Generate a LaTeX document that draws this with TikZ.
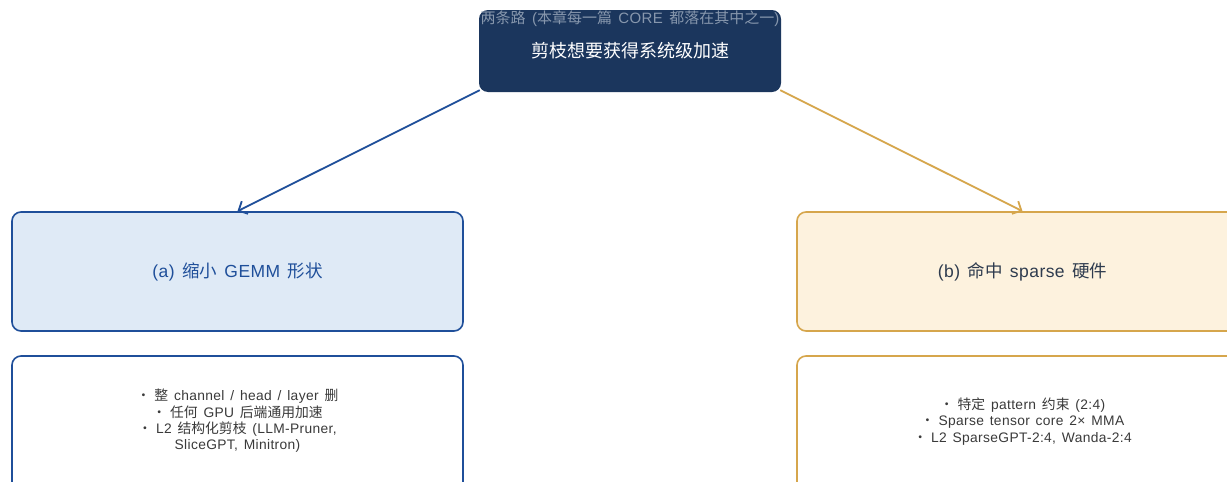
\documentclass[tikz,border=0pt]{standalone}
\usepackage{fontspec}
\setmainfont{Liberation Sans}[LetterSpace=2.5, WordSpace=1.4]
\newfontfamily\cjk{Noto Sans CJK SC}
\newcommand{\zh}[1]{{\cjk #1}}
\newcommand{\bul}{\zh{・}\hspace{4pt}}
\usetikzlibrary{arrows.meta}
\definecolor{navy}{HTML}{1B365D}
\definecolor{blueline}{HTML}{1F4F9A}
\definecolor{bluefill}{HTML}{DFEAF6}
\definecolor{goldline}{HTML}{D6A64C}
\definecolor{goldfill}{HTML}{FDF2DE}
\definecolor{darktext}{HTML}{2E3B4E}
\definecolor{bodytext}{HTML}{3A3A3A}
\definecolor{greytext}{HTML}{8797AD}
\tikzset{
  box/.style={rectangle, rounded corners=9pt, line width=1.6pt, minimum width=451pt, inner sep=0pt},
  link/.style={line width=1.8pt, -{Straight Barb[length=7pt,width=14pt]}},
  headfont/.style={font=\fontsize{17.5}{20}\selectfont},
  bodyfont/.style={font=\fontsize{13.8}{16.3}\selectfont},
}
\begin{document}
\begin{tikzpicture}[x=1pt,y=-1pt]
\clip (0,0) rectangle (1227,482);
\fill[white] (0,0) rectangle (1227,482);
% header
\node[rectangle, rounded corners=9pt, fill=navy, minimum width=302pt, minimum height=82pt] (top) at (630,51) {};
\node[text=white, font=\fontsize{18}{20}\selectfont] (toptitle) at (630,51) {\zh{剪枝想要获得系统级加速}};
\node[text=greytext, font=\fontsize{15}{17}\selectfont] (toplabel) at (630,19) {\zh{两条路} (\zh{本章每一篇} CORE \zh{都落在其中之一})};
% branch (a)
\node[box, draw=blueline, fill=bluefill, minimum height=119pt] (a) at (237.5,271.5) {};
\node[text=blueline, headfont] (atext) at (237.5,272) {(a) \zh{缩小} GEMM \zh{形状}};
\node[box, draw=blueline, fill=white, minimum height=150pt] (ad) at (237.5,431) {};
\node[text=bodytext, bodyfont, align=center] (adtext) at (237.5,421)
  {\bul \zh{整} channel / head / layer \zh{删}\\ \bul \zh{任何} GPU \zh{后端通用加速}\\ \bul L2 \zh{结构化剪枝} (LLM-Pruner,\\ SliceGPT, Minitron)};
% branch (b)
\node[box, draw=goldline, fill=goldfill, minimum height=119pt] (b) at (1022.5,271.5) {};
\node[text=darktext, headfont] (btext) at (1022.5,272) {(b) \zh{命中} sparse \zh{硬件}};
\node[box, draw=goldline, fill=white, minimum height=150pt] (bd) at (1022.5,431) {};
\node[text=bodytext, bodyfont, align=center] (bdtext) at (1022.5,421.5)
  {\bul \zh{特定} pattern \zh{约束} (2:4)\\ \bul Sparse tensor core 2× MMA\\ \bul L2 SparseGPT-2:4, Wanda-2:4};
% connectors
\draw[link, draw=blueline] (top.south west) ++(1,-2) coordinate (s1) -- (a.north);
\draw[link, draw=goldline] (top.south east) ++(-1,-2) coordinate (s2) -- (b.north);
\end{tikzpicture}
\end{document}
